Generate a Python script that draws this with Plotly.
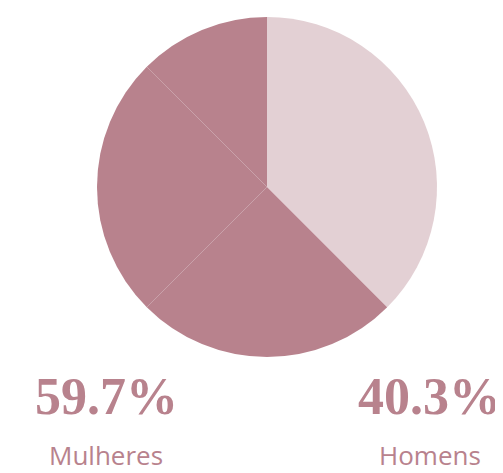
import plotly.graph_objects as go

categories = ["Mulheres", "Homens"]
shares = [59.7, 40.3]
share_labels = ["59.7%", "40.3%"]

# pie is drawn as eight 45-degree sectors; grouped by colour
sector_groups = ["Homens", "Mulheres", "Mulheres", "Mulheres", "Mulheres"]
sector_sizes = [3, 1, 1, 2, 1]

DARK = "#b8828d"
LIGHT = "#e3d0d4"
OFF = 8  # page body margin
W, H = 503 - OFF, 473 - OFF

colors = [LIGHT if g == "Homens" else DARK for g in sector_groups]

fig = go.Figure(go.Pie(
    values=sector_sizes,
    labels=[f"{g}{i}" for i, g in enumerate(sector_groups)],
    sort=False,
    direction="clockwise",
    rotation=0,
    marker=dict(colors=colors, line=dict(width=0)),
    textinfo="none",
    hoverinfo="skip",
    showlegend=False,
    domain=dict(x=[(97 - OFF) / W, (437 - OFF) / W], y=[1 - (357 - OFF) / H, 1 - (17 - OFF) / H]),
))

num_x = {"Mulheres": 106, "Homens": 429}
lab_x = {"Mulheres": 106, "Homens": 430}
for cat, lab in zip(categories, share_labels):
    fig.add_annotation(x=(num_x[cat] - OFF) / W, y=1 - (396 - OFF) / H, xref="paper", yref="paper",
                       text=f"<b>{lab}</b>", showarrow=False, xanchor="center", yanchor="middle",
                       font=dict(family="Liberation Serif", size=52, color=DARK))
    fig.add_annotation(x=(lab_x[cat] - OFF) / W, y=1 - (455 - OFF) / H, xref="paper", yref="paper",
                       text=cat, showarrow=False, xanchor="center", yanchor="middle",
                       font=dict(family="Open Sans", size=26, color=DARK))

fig.update_layout(width=W, height=H, margin=dict(l=0, r=0, t=0, b=0),
                  paper_bgcolor="white", plot_bgcolor="white")
fig.write_html("out.html")
